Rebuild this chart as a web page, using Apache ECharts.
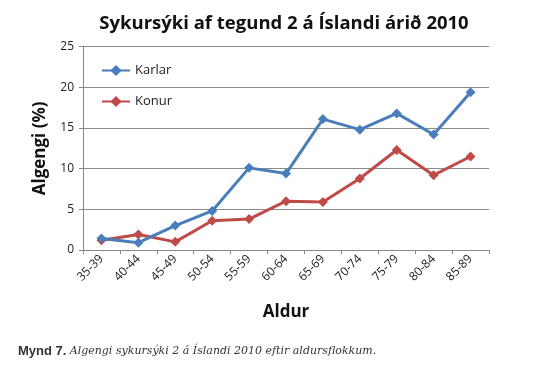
<!DOCTYPE html>
<html><head><meta charset="utf-8">
<script src="https://cdn.jsdelivr.net/npm/echarts@6/dist/echarts.min.js"></script>
<style>html,body{margin:0;padding:0;background:#fff}#c{width:550px;height:385px}</style>
</head><body><div id="c"></div>
<script>
var categories = ['35-39','40-44','45-49','50-54','55-59','60-64','65-69','70-74','75-79','80-84','85-89'];
var karlar = [1.4, 0.9, 3.0, 4.8, 10.1, 9.4, 16.1, 14.8, 16.8, 14.2, 19.4];
var konur = [1.2, 1.9, 1.0, 3.6, 3.8, 6.0, 5.9, 8.8, 12.3, 9.2, 11.5];
var yTicks = [0, 5, 10, 15, 20, 25];

var chart = echarts.init(document.getElementById('c'), null, {renderer:'canvas'});
chart.setOption({
  animation: false,
  backgroundColor: '#fff',
  title: {
    text: 'Sykursýki af tegund 2 á Íslandi árið 2010',
    left: 279, top: 9, textAlign: 'center',
    textStyle: {fontFamily: 'Open Sans', fontWeight: 'bold', fontSize: 18.5, color: '#111'}
  },
  legend: {
    orient: 'vertical', left: 96, top: 59, itemGap: 18,
    itemWidth: 28, itemHeight: 14,
    textStyle: {fontFamily: 'Open Sans', fontSize: 13, color: '#222'},
    data: ['Karlar', 'Konur']
  },
  grid: {left: 83, right: 61, top: 46.7, bottom: 135, containLabel: false},
  xAxis: {
    type: 'category', data: categories, boundaryGap: true,
    name: 'Aldur', nameLocation: 'middle', nameGap: 54,
    nameTextStyle: {fontFamily: 'Open Sans', fontWeight: 'bold', fontSize: 17, color: '#111'},
    axisLine: {lineStyle: {color: '#888'}},
    axisTick: {show: true, alignWithLabel: false, length: 4, lineStyle: {color: '#888'}},
    axisLabel: {rotate: 45, fontFamily: 'Open Sans', fontSize: 12, color: '#222', margin: 7, interval: 0}
  },
  yAxis: {
    type: 'value', min: yTicks[0], max: yTicks[yTicks.length-1], interval: 5,
    name: 'Algengi (%)', nameLocation: 'middle', nameGap: 34, nameRotate: 90,
    nameTextStyle: {fontFamily: 'Open Sans', fontWeight: 'bold', fontSize: 17, color: '#111'},
    axisLine: {show: true, lineStyle: {color: '#888'}},
    axisTick: {show: true, length: 4, lineStyle: {color: '#888'}},
    axisLabel: {fontFamily: 'Open Sans', fontSize: 12, color: '#222', margin: 9},
    splitLine: {lineStyle: {color: '#8c8c8c', width: 1}}
  },
  series: [
    {name: 'Karlar', type: 'line', data: karlar, symbol: 'diamond', symbolSize: 10,
     color: '#4A7EBB', lineStyle: {width: 3, color: '#4A7EBB'}, itemStyle: {color: '#4A7EBB'}, z: 3},
    {name: 'Konur', type: 'line', data: konur, symbol: 'diamond', symbolSize: 10,
     color: '#BE4B48', lineStyle: {width: 3, color: '#BE4B48'}, itemStyle: {color: '#BE4B48'}, z: 2}
  ],
  graphic: [{
    type: 'text', left: 18, top: 345,
    style: {
      text: '{b|Mynd 7.} {i|Algengi sykursýki 2 á Íslandi 2010 eftir aldursflokkum.}',
      rich: {
        b: {fontFamily: 'Liberation Sans', fontWeight: 'bold', fontSize: 13, fill: '#333'},
        i: {fontFamily: 'DejaVu Serif', fontStyle: 'italic', fontSize: 11, fill: '#333'}
      }
    }
  }]
});
</script></body></html>
